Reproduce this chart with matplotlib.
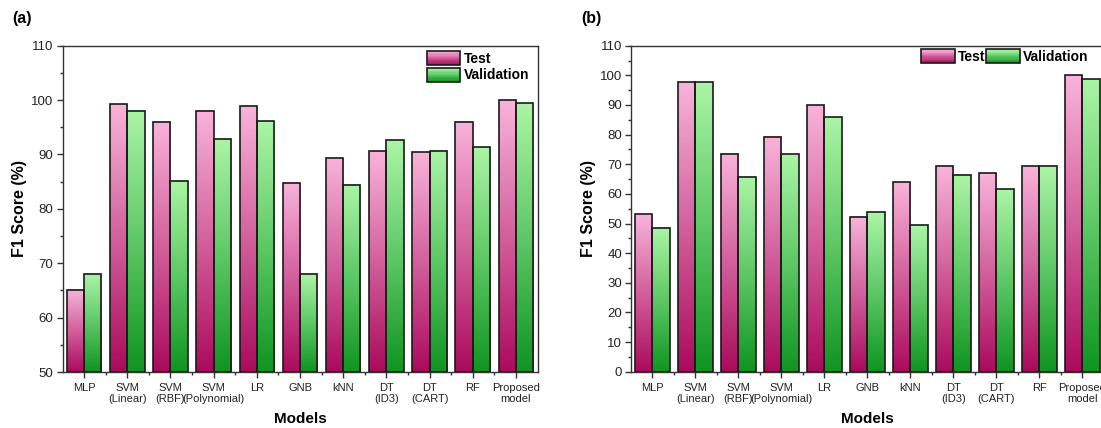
import matplotlib
matplotlib.use("Agg")
import matplotlib.pyplot as plt
import numpy as np
from matplotlib.colors import LinearSegmentedColormap
from matplotlib.legend_handler import HandlerBase
from matplotlib.patches import Rectangle
from matplotlib.ticker import MultipleLocator

plt.rcParams['font.family'] = ['Liberation Sans', 'DejaVu Sans']

models = ["MLP", "SVM\n(Linear)", "SVM\n(RBF)", "SVM\n(Polynomial)", "LR", "GNB",
          "kNN", "DT\n(ID3)", "DT\n(CART)", "RF", "Proposed\nmodel"]

# (a) F1 scores
test_a = [65.1, 99.2, 96.0, 98.0, 98.9, 84.8, 89.3, 90.6, 90.4, 96.0, 100.0]
val_a = [68.1, 98.0, 85.2, 92.9, 96.1, 68.1, 84.4, 92.6, 90.7, 91.3, 99.4]

# (b) F1 scores
test_b = [53.3, 97.6, 73.6, 79.3, 89.9, 52.3, 64.1, 69.3, 67.0, 69.3, 100.0]
val_b = [48.6, 97.7, 65.8, 73.4, 85.8, 53.8, 49.5, 66.5, 61.7, 69.4, 98.7]

pink = LinearSegmentedColormap.from_list("pink", ["#ab0a5c", "#d2609c", "#f9b3da"])
green = LinearSegmentedColormap.from_list("green", ["#0f9421", "#5ec865", "#abf5a6"])
grad = np.linspace(0, 1, 256).reshape(-1, 1)[::-1]


def gradient_bars(ax, xs, heights, base, width, cmap):
    for x, h in zip(xs, heights):
        ax.imshow(grad, cmap=cmap, extent=[x, x + width, base, h],
                  aspect='auto', zorder=2, interpolation='bilinear')
        ax.add_patch(Rectangle((x, base), width, h - base, fill=False,
                               edgecolor='#1a1a1a', lw=1.2, zorder=3))


class GradientHandler(HandlerBase):
    def __init__(self, cmap):
        super().__init__()
        self.cmap = cmap

    def create_artists(self, legend, orig_handle, xdescent, ydescent,
                       width, height, fontsize, trans):
        arts = []
        n = 12
        for i in range(n):
            r = Rectangle((-xdescent, -ydescent + height * i / n), width, height / n,
                          facecolor=self.cmap(i / (n - 1)), edgecolor='none',
                          transform=trans)
            arts.append(r)
        arts.append(Rectangle((-xdescent, -ydescent), width, height, fill=False,
                              edgecolor='#1a1a1a', lw=1.2, transform=trans))
        return arts


def draw_panel(ax, test, val, ymin, ymax, major, minor, letter, legend_kw):
    x = np.arange(len(models))
    w = 0.4
    gradient_bars(ax, x - w, test, ymin, w, pink)
    gradient_bars(ax, x, val, ymin, w, green)
    ax.set_xlim(-0.5, len(models) - 0.5)
    ax.set_ylim(ymin, ymax)
    ax.set_xticks(x)
    ax.set_xticklabels(models, fontsize=8, color='#222222', linespacing=1.1)
    ax.set_xticks(x[:-1] + 0.5, minor=True)
    ax.yaxis.set_major_locator(MultipleLocator(major))
    ax.yaxis.set_minor_locator(MultipleLocator(minor))
    ax.tick_params(axis='y', labelsize=9.5, colors='#222222', pad=2.5)
    ax.tick_params(axis='x', pad=4)
    ax.tick_params(which='major', length=4, width=1, color='#333333')
    ax.tick_params(which='minor', length=2.5, width=1, color='#333333')
    for s in ax.spines.values():
        s.set_color('#333333')
        s.set_linewidth(1)
    ax.set_xlabel("Models", fontsize=11, fontweight='bold', labelpad=6)
    ax.set_ylabel("F1 Score (%)", fontsize=11.5, fontweight='bold', labelpad=3)
    ax.text(-0.105, 1.06, letter, transform=ax.transAxes, fontsize=11.5,
            fontweight='bold', va='bottom')
    h1 = Rectangle((0, 0), 1, 1)
    h2 = Rectangle((0, 0), 1, 1)
    leg = ax.legend([h1, h2], ["Test", "Validation"],
                    handler_map={h1: GradientHandler(pink), h2: GradientHandler(green)},
                    frameon=False, prop={'weight': 'bold', 'size': 10},
                    handlelength=2.4, handleheight=1.2, handletextpad=0.25,
                    labelspacing=0.15, borderaxespad=0.2, **legend_kw)
    leg.set_zorder(5)


fig = plt.figure(figsize=(11.01, 4.28), dpi=100)
ax1 = fig.add_axes([0.0568, 0.1308, 0.4314, 0.7624])
ax2 = fig.add_axes([0.5731, 0.1315, 0.4296, 0.7617])
ax2.spines['right'].set_visible(False)

draw_panel(ax1, test_a, val_a, 50, 110, 10, 5, "(a)",
           dict(loc='upper right', bbox_to_anchor=(1.0, 1.01)))
draw_panel(ax2, test_b, val_b, 0, 110, 10, 5, "(b)",
           dict(loc='upper right', ncol=2, columnspacing=0.05,
                bbox_to_anchor=(0.985, 1.015)))

fig.savefig("out.png", dpi=100)
